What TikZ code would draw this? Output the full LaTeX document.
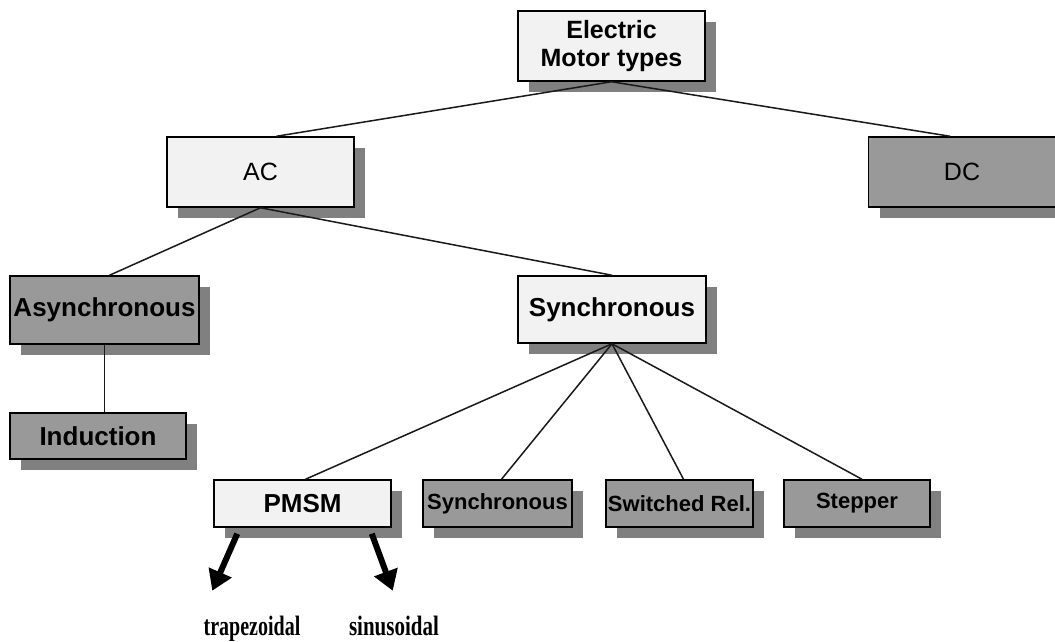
\documentclass[tikz,border=0pt]{standalone}
\usepackage{fontspec}
\usetikzlibrary{shadows,arrows.meta,calc}
\newfontfamily\arialfont{Liberation Sans}
\newfontfamily\timesfont{Liberation Serif}
\definecolor{lightbox}{HTML}{F2F2F2}
\definecolor{darkbox}{HTML}{999999}
\definecolor{shadowgray}{HTML}{808080}
\tikzset{
  boxbase/.style={draw=black, line width=1.5pt, inner sep=0pt, align=center,
    drop shadow={shadow xshift=11pt, shadow yshift=-11pt, fill=shadowgray, opacity=1},
    font=\arialfont\bfseries\fontsize{26}{28}\selectfont},
  lightnode/.style={boxbase, fill=lightbox},
  darknode/.style={boxbase, fill=darkbox},
  smallfont/.style={font=\arialfont\bfseries\fontsize{22}{24}\selectfont},
  regfont/.style={font=\arialfont\fontsize{25}{28}\selectfont},
  conn/.style={line width=1.5pt, draw=black!90},
  bigarrow/.style={line width=6pt, -{Triangle[length=20pt,width=24pt]}},
  leaflabel/.style={inner sep=0pt, anchor=base, font=\timesfont\bfseries\fontsize{20}{22}\selectfont}
}
\begin{document}
\begin{tikzpicture}[x=1pt,y=-1pt]
\useasboundingbox (0,0) rectangle (1055,641);
% nodes
\node[lightnode, font=\arialfont\bfseries\fontsize{25}{28}\selectfont, minimum width=187pt, minimum height=70pt] (em) at (611.5,46) {Electric\\Motor types};
\node[lightnode, regfont, minimum width=187pt, minimum height=70pt] (ac) at (260.5,172) {AC};
\node[darknode, regfont, minimum width=187pt, minimum height=70pt] (dc) at (962,172) {DC};
\node[darknode, minimum width=189pt, minimum height=68pt] (as) at (104.5,310) {Asynchronous};
\node[darknode, minimum width=176pt, minimum height=46pt] (ind) at (98,436) {Induction};
\node[lightnode, minimum width=188pt, minimum height=67pt] (sy) at (612,309.5) {Synchronous};
\node[lightnode, minimum width=177pt, minimum height=47pt] (pm) at (302.5,503.5) {PMSM};
\node[darknode, smallfont, minimum width=149pt, minimum height=47pt] (sy2) at (497.5,503.5) {Synchronous};
\node[darknode, smallfont, minimum width=147pt, minimum height=47pt] (sr) at (679.5,503.5) {Switched Rel.};
\node[darknode, smallfont, minimum width=146pt, minimum height=47pt] (st) at (857,503.5) {Stepper};
% connector lines
\draw[conn] (em.south) -- ($(ac.north)+(16,0)$);
\draw[conn] (em.south) -- ($(dc.north)+(-12,0)$);
\draw[conn] (ac.south) -- ($(as.north)+(5,0)$);
\draw[conn] (ac.south) -- (sy.north);
\draw[conn] (as.south) -- (ind.north -| as.south);
\draw[conn] (sy.south) -- ($(pm.north)+(3,0)$);
\draw[conn] (sy.south) -- ($(sy2.north)+(4,0)$);
\draw[conn] (sy.south) -- ($(sr.north)+(4,0)$);
\draw[conn] (sy.south) -- ($(st.north)+(5,0)$);
% leaf labels and arrows
\node[leaflabel] (trap) at (252,635) {\scalebox{1}[1.4]{trapezoidal}};
\node[leaflabel] (sinu) at (394,635) {\scalebox{1.05}[1.4]{sinusoidal}};
\coordinate (a1s) at ($(pm.south west)+(24,6)$);
\coordinate (a1e) at ($(pm.south west)+(-1,63)$);
\coordinate (a2s) at ($(pm.south east)+(-20,6)$);
\coordinate (a2e) at ($(pm.south east)+(1,63)$);
\draw[bigarrow] (a1s) -- (a1e);
\draw[bigarrow] (a2s) -- (a2e);
\end{tikzpicture}
\end{document}
